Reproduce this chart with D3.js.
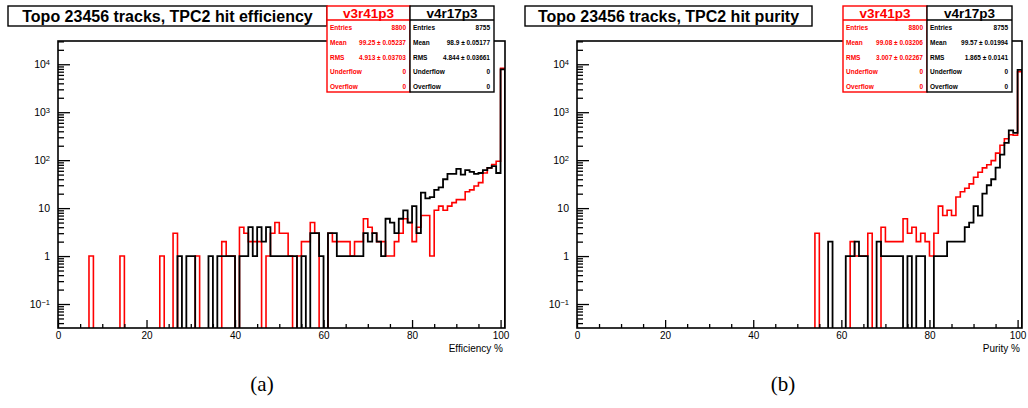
<!DOCTYPE html>
<html>
<head>
<meta charset="utf-8">
<script src="https://cdn.jsdelivr.net/npm/d3@7"></script>
<style>
  body { margin: 0; background: #fff; }
  svg { display: block; }
  text { font-family: "Liberation Sans", Arial, sans-serif; }
</style>
</head>
<body>
<script>
// bin contents, bins of width 1 from 0 to 101 (index = lower edge)
var effRed = [
  0,0,0,0,0,0,0,1,0,0,
  0,0,0,0,1,0,0,0,0,0,
  0,0,0,1,0,0,3,0,0,0,
  0,1,0,0,0,0,0,2,1,1,
  0,4,3,2,2,2,0,1,3,5,
  3,3,1,0,1,2,2,5,3,0,
  0,3,2,2,2,2,1,2,2,6,
  4,3,2,2,1,1,2,3,6,5,
  2,4,7,7,1,9,11,9,11,13,
  15,15,22,24,29,34,54,69,81,95,
  8200
];
var effBlack = [
  0,0,0,0,0,0,0,0,0,0,
  0,0,0,0,0,0,0,0,0,0,
  0,0,0,0,0,0,0,1,0,1,
  1,0,0,0,1,0,1,1,1,1,
  0,1,1,4,1,4,2,4,1,1,
  1,1,1,1,0,1,0,3,3,1,
  0,3,3,1,1,1,1,1,1,3,
  2,3,2,1,6,5,3,6,9,5,
  11,3,21,16,17,24,27,40,52,52,
  66,50,62,57,52,54,62,69,75,54,
  7800
];
var purRed = [
  0,0,0,0,0,0,0,0,0,0,
  0,0,0,0,0,0,0,0,0,0,
  0,0,0,0,0,0,0,0,0,0,
  0,0,0,0,0,0,0,0,0,0,
  0,0,0,0,0,0,0,0,0,0,
  0,0,0,0,3,0,0,0,0,0,
  0,0,2,1,1,1,3,0,0,4,
  2,2,2,2,6,3,4,2,3,2,
  1,3,11,7,9,7,17,22,26,32,
  44,56,69,80,98,140,205,280,340,330,
  7000
];
var purBlack = [
  0,0,0,0,0,0,0,0,0,0,
  0,0,0,0,0,0,0,0,0,0,
  0,0,0,0,0,0,0,0,0,0,
  0,0,0,0,0,0,0,0,0,0,
  0,0,0,0,0,0,0,0,0,0,
  0,0,0,0,0,0,0,2,0,0,
  0,1,1,2,1,1,0,0,2,1,
  1,1,1,1,0,1,0,1,1,0,
  0,1,1,1,2,2,2,2,4,5,
  11,7,20,30,40,70,130,230,420,370,
  7600
];

var xTicks = [0, 20, 40, 60, 80, 100];
var yDecades = [0.1, 1, 10, 100, 1000, 10000];
var statNames = ["Entries", "Mean", "RMS", "Underflow", "Overflow"];
var effRedStats = ["8800", "99.25 \u00b1  0.05237", "4.913 \u00b1  0.03703", "0", "0"];
var effBlackStats = ["8755", "98.9 \u00b1  0.05177", "4.844 \u00b1  0.03661", "0", "0"];
var purRedStats = ["8800", "99.08 \u00b1  0.03206", "3.007 \u00b1  0.02267", "0", "0"];
var purBlackStats = ["8755", "99.57 \u00b1  0.01994", "1.865 \u00b1  0.0141", "0", "0"];
var versions = ["v3r41p3", "v4r17p3"];

var W = 1028, H = 408;
var svg = d3.select("body").append("svg")
    .attr("width", W)
    .attr("height", H);

function drawPanel(p) {
    var g = svg.append("g");
    var top = 41, bottom = 328;

    var x = d3.scaleLinear().domain([0, 101]).range([p.left, p.right]);
    var y = d3.scaleLog().domain([Math.pow(10, -1.5), Math.pow(10, 4.485)]).range([bottom, top]);

    var clipId = "clip" + p.id;
    svg.append("clipPath").attr("id", clipId)
        .append("rect")
        .attr("x", p.left).attr("y", top)
        .attr("width", p.right - p.left).attr("height", bottom - top);

    // histograms
    var line = d3.line()
        .x(d => x(d[0]))
        .y(d => d[1] > 0 ? y(d[1]) : bottom + 4)
        .curve(d3.curveStepAfter);

    p.series.forEach(function(s) {
        var pts = [[0, 0]];
        s.values.forEach((v, i) => pts.push([i, v]));
        pts.push([s.values.length, s.values[s.values.length - 1]]);
        pts.push([s.values.length, 0]);
        g.append("path")
            .attr("clip-path", "url(#" + clipId + ")")
            .attr("d", line(pts))
            .attr("fill", "none")
            .attr("stroke", s.color)
            .attr("stroke-width", s.width);
    });

    // x axis, ticks pointing inside
    var xMinor = d3.range(0, 101, 5).filter(v => v % 20 !== 0);
    g.append("g")
        .attr("transform", "translate(0," + bottom + ")")
        .call(d3.axisBottom(x).tickValues(xMinor).tickSize(-4).tickFormat(""))
        .call(a => a.select(".domain").remove());
    g.append("g")
        .attr("transform", "translate(0," + bottom + ")")
        .call(d3.axisBottom(x).tickValues(xTicks).tickSize(-8).tickPadding(4))
        .call(a => a.select(".domain").remove())
        .style("font-size", "10px");

    // y axis (log)
    var yMinor = [];
    [-2, -1, 0, 1, 2, 3, 4].forEach(function(e) {
        for (var m = 2; m <= 9; m++) {
            var v = m * Math.pow(10, e);
            if (y(v) <= bottom && y(v) >= top) yMinor.push(v);
        }
    });
    g.append("g")
        .attr("transform", "translate(" + p.left + ",0)")
        .call(d3.axisLeft(y).tickValues(yMinor).tickSize(-6).tickFormat(""))
        .call(a => a.select(".domain").remove());
    var ya = g.append("g")
        .attr("transform", "translate(" + p.left + ",0)")
        .call(d3.axisLeft(y).tickValues(yDecades).tickSize(-12).tickPadding(8).tickFormat(""))
        .call(a => a.select(".domain").remove())
        .style("font-size", "10.5px");
    ya.selectAll(".tick text").each(function(d) {
        var t = d3.select(this);
        var e = Math.round(Math.log10(d));
        if (e === 0) t.text("1");
        else if (e === 1) t.text("10");
        else {
            t.text("10");
            t.append("tspan").attr("dy", "-0.45em").style("font-size", "7.5px")
                .text(e < 0 ? "\u2212" + (-e) : e);
        }
    });
    g.selectAll(".tick line").attr("stroke", "#000").attr("stroke-width", 1.3);

    // frame
    g.append("rect")
        .attr("x", p.left).attr("y", top)
        .attr("width", p.right - p.left).attr("height", bottom - top)
        .attr("fill", "none").attr("stroke", "#000").attr("stroke-width", 1.6);

    // axis title
    g.append("text")
        .attr("x", p.right - 2).attr("y", 352)
        .attr("text-anchor", "end")
        .style("font-size", "10px")
        .text(p.xLabel);

    // title box
    g.append("rect")
        .attr("x", p.titleX0).attr("y", 6)
        .attr("width", p.titleX1 - p.titleX0).attr("height", 20)
        .attr("fill", "#fff").attr("stroke", "#000").attr("stroke-width", 1.4);
    g.append("text")
        .attr("x", (p.titleX0 + p.titleX1) / 2).attr("y", 22)
        .attr("text-anchor", "middle")
        .style("font-size", "16px").style("font-weight", "bold")
        .text(p.title);

    // stats boxes
    p.stats.forEach(function(s, i) {
        var x0 = p.statX[i], x1 = p.statX[i + 1];
        var sg = g.append("g");
        sg.append("rect")
            .attr("x", x0).attr("y", 6)
            .attr("width", x1 - x0).attr("height", 86)
            .attr("fill", "#fff").attr("stroke", s.color).attr("stroke-width", 1.4);
        sg.append("line")
            .attr("x1", x0).attr("x2", x1).attr("y1", 20).attr("y2", 20)
            .attr("stroke", s.color).attr("stroke-width", 1.4);
        sg.append("text")
            .attr("x", (x0 + x1) / 2).attr("y", 17.5)
            .attr("text-anchor", "middle")
            .attr("fill", s.color)
            .style("font-size", "13.5px").style("font-weight", "bold")
            .text(versions[i]);
        statNames.forEach(function(n, j) {
            var yy = 30.3 + j * 14.6;
            sg.append("text")
                .attr("x", x0 + 3).attr("y", yy)
                .attr("fill", s.color)
                .style("font-size", "6.5px").style("font-weight", "bold")
                .text(n);
            sg.append("text")
                .attr("x", x1 - 4).attr("y", yy)
                .attr("text-anchor", "end")
                .attr("fill", s.color)
                .style("font-size", "6.5px").style("font-weight", "bold")
                .text(s.values[j]);
        });
    });

    // sub caption
    svg.append("text")
        .attr("x", p.capX).attr("y", 391)
        .attr("text-anchor", "middle")
        .style("font-family", "'Liberation Serif', 'DejaVu Serif', serif")
        .style("font-size", "21px")
        .text(p.caption);
}

drawPanel({
    id: "a", left: 58, right: 505,
    series: [
        { values: effRed, color: "#ff0000", width: 1.6 },
        { values: effBlack, color: "#000", width: 1.8 }
    ],
    xLabel: "Efficiency %",
    title: "Topo 23456 tracks, TPC2 hit efficiency",
    titleX0: 8, titleX1: 327,
    statX: [327, 410, 494],
    stats: [
        { color: "#ff0000", values: effRedStats },
        { color: "#000", values: effBlackStats }
    ],
    caption: "(a)", capX: 262
});

drawPanel({
    id: "b", left: 577, right: 1022,
    series: [
        { values: purRed, color: "#ff0000", width: 1.6 },
        { values: purBlack, color: "#000", width: 1.8 }
    ],
    xLabel: "Purity %",
    title: "Topo 23456 tracks, TPC2 hit purity",
    titleX0: 525, titleX1: 812,
    statX: [843, 927, 1012],
    stats: [
        { color: "#ff0000", values: purRedStats },
        { color: "#000", values: purBlackStats }
    ],
    caption: "(b)", capX: 783
});
</script>
</body>
</html>
